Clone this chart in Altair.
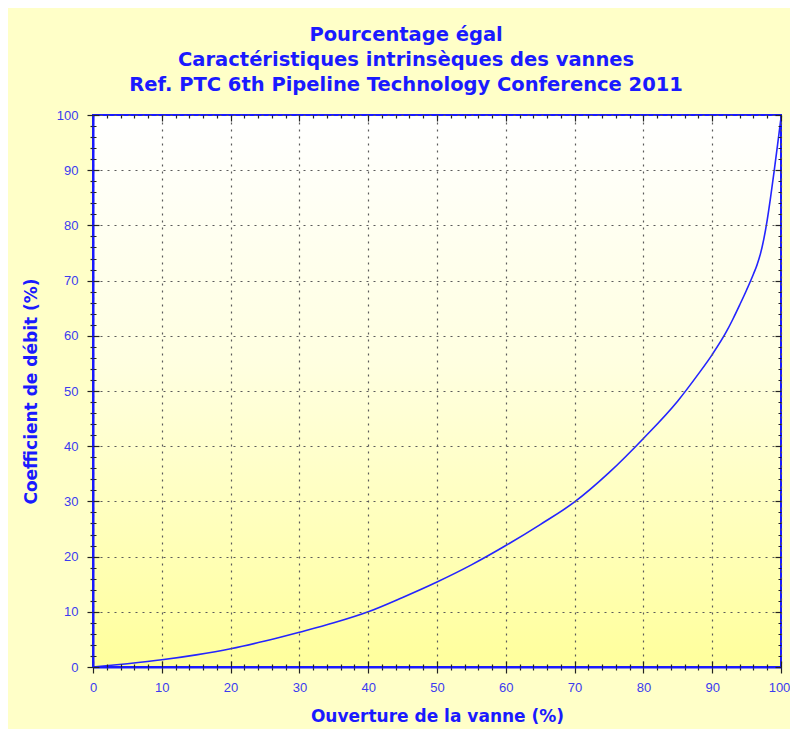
import altair as alt
import pandas as pd

# ---- data ----
opening = [0, 5, 10, 15, 20, 25, 30, 35, 40, 45, 50, 55, 60, 65, 70, 75, 80,
           85, 88, 90, 92, 93, 94, 95, 96, 96.5, 97, 97.5, 98, 98.5, 99, 99.5, 100]
flow = [0, 0.6, 1.3, 2.2, 3.3, 4.7, 6.3, 8.0, 10.0, 12.6, 15.4, 18.5, 22.0,
        25.8, 29.9, 35.2, 41.4, 48.2, 53.1, 56.6, 60.6, 63.0, 65.6, 68.3,
        71.2, 72.8, 74.8, 77.5, 81.0, 85.2, 89.8, 94.6, 99.5]
x_range = [0, 100]
y_range = [0, 100]
tick_values = list(range(0, 101, 2))

title_lines = ["Pourcentage égal",
               "Caractéristiques intrinsèques des vannes",
               "Ref. PTC 6th Pipeline Technology Conference 2011"]
x_title = "Ouverture de la vanne (%)"
y_title = "Coefficient de débit (%)"

BLUE = "#1a1aff"
LABEL_BLUE = "#3b3bf0"
TICK = "#222222"
FONT = "Liberation Sans"
TITLE_FONT = "DejaVu Sans"

df = pd.DataFrame({"x": opening, "y": flow})
bg = pd.DataFrame({"x0": [x_range[0]], "x1": [x_range[1]],
                   "y0": [y_range[0]], "y1": [y_range[1]]})

major = "datum.value % 10 === 0"
cond_size = {"condition": {"test": major, "value": 6}, "value": 3}
cond_grid = {"condition": {"test": major, "value": 1}, "value": 0}
cond_dash = {"condition": {"test": major, "value": []}, "value": [0, 3, 3, 0]}
label_expr = "datum.value % 10 === 0 ? datum.label : ''"

xs = alt.Scale(domain=x_range, nice=False, zero=False)
ys = alt.Scale(domain=y_range, nice=False, zero=False)


def main_axis(orient, title, label_pad, title_pad, label_offset=0):
    return alt.Axis(
        orient=orient, values=tick_values, labelExpr=label_expr,
        tickSize=cond_size, tickColor=TICK, tickWidth=1.2,
        grid=True, gridOpacity=cond_grid, gridDash=[2, 5], gridColor="#5a5a5a",
        gridWidth=1.2,
        domain=True, domainColor=BLUE, domainWidth=2,
        labelColor=LABEL_BLUE, labelFont=FONT, labelFontSize=13,
        labelPadding=label_pad, labelFlush=False, labelOverlap=False,
        labelOffset={"condition": {"test": "datum.value === 100",
                                   "value": label_offset}, "value": 0},
        title=title, titleColor=BLUE, titleFont=TITLE_FONT, titleFontSize=17,
        titleFontWeight="bold", titlePadding=title_pad, zindex=1)


def inner_axis(orient):
    return alt.Axis(
        orient=orient, values=tick_values, labels=False, grid=False,
        domain=False, offset=-6, tickSize=6, tickDash=cond_dash,
        tickColor=TICK, tickWidth=1.2, title=None, zindex=1)


background = alt.Chart(bg).mark_rect(
    fill=alt.Gradient(
        gradient="linear", x1=0, x2=0, y1=0, y2=1,
        stops=[alt.GradientStop(color="#ffffff", offset=0),
               alt.GradientStop(color="#ffffe0", offset=0.45),
               alt.GradientStop(color="#ffff9c", offset=1)]),
    stroke=BLUE, strokeWidth=2,
).encode(
    x=alt.X("x0:Q", scale=xs, axis=main_axis("bottom", x_title, 8, 14, -2)),
    x2="x1:Q",
    y=alt.Y("y0:Q", scale=ys, axis=main_axis("left", y_title, 9, 16)),
    y2="y1:Q",
)

line = alt.Chart(df).mark_line(
    color="#2424ff", strokeWidth=1.6, interpolate="monotone"
).encode(
    x=alt.X("x:Q", scale=xs, axis=inner_axis("bottom")),
    y=alt.Y("y:Q", scale=ys, axis=inner_axis("left")),
)

frame = alt.Chart(df).mark_point(opacity=0).encode(
    x=alt.X("x:Q", scale=xs, axis=inner_axis("top")),
    y=alt.Y("y:Q", scale=ys, axis=inner_axis("right")),
)

chart = alt.layer(background, line, frame).resolve_axis(
    x="independent", y="independent"
).properties(
    width=688, height=552,
    autosize=alt.AutoSizeParams(type="none"),
    padding={"left": 85, "top": 107, "right": 9, "bottom": 62},
    background="#ffffc8",
    title=alt.TitleParams(
        text=title_lines, color=BLUE, font=TITLE_FONT, fontSize=19.5,
        fontWeight="bold", anchor="middle", frame="bounds", lineHeight=25,
        offset=14),
).configure_view(stroke=None)

chart.save("out.html", embed_options={"renderer": "svg", "actions": False})
